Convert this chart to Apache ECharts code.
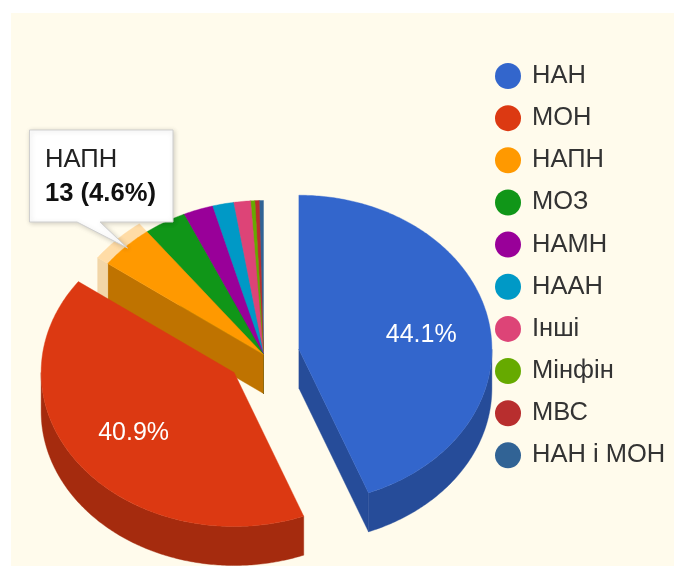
<!DOCTYPE html>
<html><head><meta charset="utf-8">
<style>html,body{margin:0;padding:0;background:#fff}#c{width:674px;height:566px}</style>
<script src="https://cdn.jsdelivr.net/npm/echarts@6/dist/echarts.min.js"></script>
</head><body><div id="c"></div>
<script>
const categories = ['НАН','МОН','НАПН','МОЗ','НАМН','НААН','Інші','Мінфін','МВС','НАН і МОН'];
const values = [124,115,13,10,7,5,4,1,1,1];
const colors = ['#3366cc','#dc3912','#ff9900','#109618','#990099','#0099c6','#dd4477','#66aa00','#b82e2e','#316395'];
const sideColors = ['#264c99','#a52b0e','#bf7300','#0c7012','#720072','#007294','#a53259','#4c7f00','#8a2222','#254a6f'];
const explodes = [36,37,0,0,0,0,0,0,0,0];
const labelled = [true,true,false,false,false,false,false,false,false,false];
const highlighted = 'НАПН';

const total = values.reduce((a,b)=>a+b,0);
const CX=263.5, CY=354.5, RX=193, RY=154, DEPTH=39;
const rad = d => d*Math.PI/180;

function arc(cx,cy,a0,a1,k,dy){
  const pts=[]; const n=Math.max(2,Math.ceil((a1-a0)*1.5));
  for(let i=0;i<=n;i++){
    const a=rad(a0+(a1-a0)*i/n);
    pts.push([cx+RX*k*Math.sin(a), cy-RY*k*Math.cos(a)+(dy||0)]);
  }
  return pts;
}
function poly(points,fill){
  return {type:'polygon',shape:{points},style:{fill,stroke:fill,lineWidth:0.4}};
}
function renderSlice(idx){
  return function(params,api){
    const v=api.value(0);
    let before=0; for(let i=0;i<idx;i++) before+=values[i];
    const a0=before/total*360, a1=(before+v)/total*360, mid=(a0+a1)/2;
    const off=explodes[idx];
    const cx=CX+off*Math.sin(rad(mid)), cy=CY-off*0.8*Math.cos(rad(mid));
    const ch=[];
    const side=sideColors[idx], top=colors[idx];
    const radial=(a)=>{
      const p=[cx+RX*Math.sin(rad(a)),cy-RY*Math.cos(rad(a))];
      return poly([[cx,cy],p,[p[0],p[1]+DEPTH],[cx,cy+DEPTH]],side);
    };
    // radial walls that face the viewer
    if(a0>180 && a0<360) ch.push(radial(a0));
    if(a1>0 && a1<180) ch.push(radial(a1));
    // outer wall on the lower half
    const w0=Math.max(a0,90), w1=Math.min(a1,270);
    if(w1>w0){
      const t=arc(cx,cy,w0,w1,1,0), b=arc(cx,cy,w0,w1,1,DEPTH).reverse();
      ch.push(poly(t.concat(b),side));
    }
    if(categories[idx]===highlighted){
      const K=1.065;
      const p=[cx+RX*Math.sin(rad(a0)),cy-RY*Math.cos(rad(a0))];
      const q=[cx+RX*K*Math.sin(rad(a0)),cy-RY*K*Math.cos(rad(a0))];
      ch.push(poly([p,q,[q[0],q[1]+DEPTH],[p[0],p[1]+DEPTH]],'#f2d6a8'));
      ch.push(poly(arc(cx,cy,a0,a1,1,0).concat(arc(cx,cy,a0,a1,K,0).reverse()),'#ffdca6'));
    }
    ch.push(poly([[cx,cy]].concat(arc(cx,cy,a0,a1,1,0)),top));
    if(labelled[idx]){
      ch.push({type:'text',style:{
        x:cx+RX*0.65*Math.sin(rad(mid))-1,y:cy-RY*0.62*Math.cos(rad(mid))+3,
        text:(v/total*100).toFixed(1)+'%',fill:'#fff',
        font:'25px "Liberation Sans",Arial,sans-serif',align:'center',verticalAlign:'middle'}});
    }
    return {type:'group',children:ch};
  };
}
const order=categories.map((_,i)=>i).reverse();
const series=order.map(i=>({
  type:'custom',name:categories[i],coordinateSystem:'none',
  color:colors[i],itemStyle:{color:colors[i]},
  data:[[values[i]]],renderItem:renderSlice(i),silent:true,z:2,animation:false
}));
const hi=categories.indexOf(highlighted);
const chart=echarts.init(document.getElementById('c'),null,{renderer:'canvas'});
chart.setOption({
  animation:false,
  backgroundColor:'#fff',
  legend:{
    data:categories,orient:'vertical',left:495,top:63,icon:'circle',
    itemWidth:26,itemHeight:26,itemGap:16.15,selectedMode:false,
    textStyle:{fontSize:25.5,color:'#333',fontFamily:'"Liberation Sans",Arial,sans-serif',padding:[5,0,0,6]},
    padding:0,itemStyle:{borderWidth:0}
  },
  series,
  graphic:[
    {type:'rect',z:-10,silent:true,shape:{x:11,y:13,width:663,height:553},style:{fill:'#fffbec'}},
    {type:'polygon',z:50,silent:true,
     shape:{points:[[29.5,130],[173,130],[173,222],[100,222],[127.5,248],[77,222],[29.5,222]]},
     style:{fill:'#fff',stroke:'#cfcfcf',lineWidth:1,shadowBlur:5,shadowColor:'rgba(0,0,0,0.18)',shadowOffsetX:1,shadowOffsetY:1}},
    {type:'text',z:51,silent:true,x:45,y:160,style:{text:categories[hi],fill:'#222',
      font:'25.6px "Liberation Sans",Arial,sans-serif',verticalAlign:'middle'}},
    {type:'text',z:51,silent:true,x:45,y:194,style:{text:values[hi]+' ('+(values[hi]/total*100).toFixed(1)+'%)',fill:'#111',
      font:'bold 25.6px "Liberation Sans",Arial,sans-serif',verticalAlign:'middle'}}
  ]
});
</script></body></html>
